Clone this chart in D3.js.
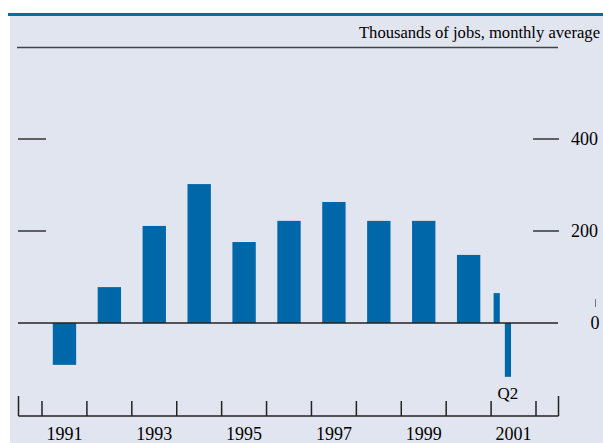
<!DOCTYPE html>
<html>
<head>
<meta charset="utf-8">
<script src="https://cdn.jsdelivr.net/npm/d3@7"></script>
<style>
  body { margin: 0; background: #fff; }
  text { font-family: "Liberation Serif", "DejaVu Serif", serif; fill: #000; }
</style>
</head>
<body>
<svg id="chart" width="603" height="443"></svg>
<script>
// annual averages 1991-2000, thousands of jobs per month
var years = [1991, 1992, 1993, 1994, 1995, 1996, 1997, 1998, 1999, 2000];
var yearValues = [-91, 78, 211, 302, 176, 222, 263, 222, 222, 148];
// 2001 by quarter
var quarters = ["Q1", "Q2"];
var quarterValues = [65, -117];
var yearLabels = [1991, 1993, 1995, 1997, 1999, 2001];
var yTicks = [0, 200, 400];

var svg = d3.select("#chart");

var x = d3.scaleLinear().domain([1991, 2002]).range([42, 536]);
var y = d3.scaleLinear().domain([0, 400]).range([323, 139]);

// panel
svg.append("rect")
    .attr("x", 10).attr("y", 15)
    .attr("width", 593).attr("height", 428)
    .attr("fill", "#e1e5f0");
svg.append("rect")
    .attr("x", 8).attr("y", 13)
    .attr("width", 595).attr("height", 3)
    .attr("fill", "#0a6aa8");

svg.append("text")
    .attr("x", 600).attr("y", 38)
    .attr("text-anchor", "end")
    .attr("font-size", 16.6)
    .text("Thousands of jobs, monthly average");

svg.append("line")
    .attr("x1", 17).attr("x2", 558)
    .attr("y1", 47.5).attr("y2", 47.5)
    .attr("stroke", "#444").attr("stroke-width", 1.5);

// y ticks, both sides
var ticks = svg.append("g");
ticks.selectAll("line.left")
  .data(yTicks.filter(function(d) { return d > 0; }))
  .enter().append("line")
    .attr("class", "left")
    .attr("x1", 18).attr("x2", 46)
    .attr("y1", function(d) { return y(d); })
    .attr("y2", function(d) { return y(d); })
    .attr("stroke", "#333").attr("stroke-width", 1.5);
ticks.selectAll("line.right")
  .data(yTicks.filter(function(d) { return d > 0; }))
  .enter().append("line")
    .attr("class", "right")
    .attr("x1", 533).attr("x2", 559)
    .attr("y1", function(d) { return y(d); })
    .attr("y2", function(d) { return y(d); })
    .attr("stroke", "#333").attr("stroke-width", 1.5);
ticks.selectAll("text")
  .data(yTicks)
  .enter().append("text")
    .attr("x", function(d) { return d == 0 ? 595 : 571; })
    .attr("y", function(d) { return y(d) + 6; })
    .attr("text-anchor", function(d) { return d == 0 ? "middle" : "start"; })
    .attr("font-size", 18)
    .text(function(d) { return d; });
// little mark above the zero label
svg.append("line")
    .attr("x1", 595.5).attr("x2", 595.5)
    .attr("y1", y(0) - 24).attr("y2", y(0) - 16)
    .attr("stroke", "#777").attr("stroke-width", 1);

// bars
var barW = (x(1992) - x(1991)) * 0.52;
svg.selectAll("rect.year")
  .data(years)
  .enter().append("rect")
    .attr("class", "year")
    .attr("x", function(d) { return x(d + 0.5) - barW / 2; })
    .attr("y", function(d, i) { return y(Math.max(0, yearValues[i])); })
    .attr("width", barW)
    .attr("height", function(d, i) { return Math.abs(y(yearValues[i]) - y(0)); })
    .attr("fill", "#0067a9");

var qW = (x(1992) - x(1991)) / 4 * 0.55;
svg.selectAll("rect.quarter")
  .data(quarters)
  .enter().append("rect")
    .attr("class", "quarter")
    .attr("x", function(d, i) { return x(2001 + (i + 0.5) / 4) - qW / 2; })
    .attr("y", function(d, i) { return y(Math.max(0, quarterValues[i])); })
    .attr("width", qW)
    .attr("height", function(d, i) { return Math.abs(y(quarterValues[i]) - y(0)); })
    .attr("fill", "#0067a9");

svg.append("text")
    .attr("x", x(2001 + 1.5 / 4)).attr("y", y(quarterValues[1]) + 22)
    .attr("text-anchor", "middle")
    .attr("font-size", 17)
    .text(quarters[1]);

// zero line
svg.append("line")
    .attr("x1", 18).attr("x2", 558)
    .attr("y1", y(0)).attr("y2", y(0))
    .attr("stroke", "#222").attr("stroke-width", 1.5);

// bottom axis
var axisY = 416;
var bottom = svg.append("g");
bottom.append("line")
    .attr("x1", 18.5).attr("x2", 558.5)
    .attr("y1", axisY).attr("y2", axisY)
    .attr("stroke", "#222").attr("stroke-width", 1.5);
bottom.selectAll("line.tick")
  .data(d3.range(1991, 2003))
  .enter().append("line")
    .attr("class", "tick")
    .attr("x1", function(d) { return x(d); })
    .attr("x2", function(d) { return x(d); })
    .attr("y1", axisY - 15).attr("y2", axisY)
    .attr("stroke", "#222").attr("stroke-width", 1.5);
bottom.selectAll("line.end")
  .data([18.5, 558.5])
  .enter().append("line")
    .attr("class", "end")
    .attr("x1", function(d) { return d; })
    .attr("x2", function(d) { return d; })
    .attr("y1", axisY - 20).attr("y2", axisY)
    .attr("stroke", "#222").attr("stroke-width", 1.5);
bottom.selectAll("text")
  .data(yearLabels)
  .enter().append("text")
    .attr("x", function(d) { return x(d + 0.5); })
    .attr("y", 440)
    .attr("text-anchor", "middle")
    .attr("font-size", 18)
    .text(function(d) { return d; });
</script>
</body>
</html>
